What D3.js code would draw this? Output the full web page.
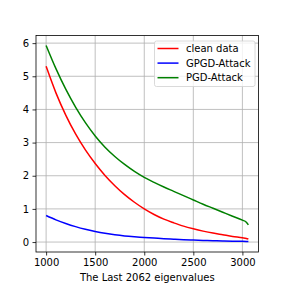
<html>
<head>
<script src="https://cdn.jsdelivr.net/npm/d3@7"></script>
<style>
  body { margin: 0; background: #fff; }
  text { font-family: "DejaVu Sans", sans-serif; }
</style>
</head>
<body>
<div id="vis_container"></div>
<script>
    // x positions of the sampled eigenvalues (last point = 1000 + 2062 - 1)
    var xs = [1000, 1100, 1200, 1300, 1400, 1500, 1600, 1700, 1800, 1900, 2000,
              2100, 2200, 2300, 2400, 2500, 2600, 2700, 2800, 2900, 3000, 3040, 3061];
    var clean = [5.30, 4.50, 3.83, 3.26, 2.78, 2.37, 2.01, 1.70, 1.43, 1.20, 1.00,
                 0.83, 0.69, 0.58, 0.48, 0.40, 0.33, 0.27, 0.22, 0.17, 0.13, 0.11, 0.09];
    var gpgd = [0.80, 0.67, 0.56, 0.465, 0.385, 0.32, 0.265, 0.22, 0.185, 0.16, 0.14,
                0.12, 0.10, 0.085, 0.07, 0.06, 0.05, 0.04, 0.033, 0.027, 0.022, 0.018, 0.015];
    var pgd = [5.93, 5.23, 4.61, 4.07, 3.60, 3.20, 2.86, 2.58, 2.34, 2.13, 1.95,
               1.80, 1.66, 1.53, 1.40, 1.27, 1.14, 1.02, 0.90, 0.78, 0.66, 0.60, 0.52];
    var seriesNames = ["clean data", "GPGD-Attack", "PGD-Attack"];
    var seriesColors = ["red", "blue", "green"];
    var xTicks = [1000, 1500, 2000, 2500, 3000];
    var yTicks = [0, 1, 2, 3, 4, 5, 6];
    var xLabel = "The Last 2062 eigenvalues";

    var width = 288, height = 288;
    var pLeft = 36, pRight = 258.5, pTop = 35.5, pBottom = 252;

    var svg = d3.select("#vis_container")
                .append("svg")
                .attr("width", width)
                .attr("height", height);

    var x = d3.scaleLinear().domain([896.9, 3164.1]).range([pLeft, pRight]);
    var y = d3.scaleLinear().domain([-0.3, 6.23]).range([pBottom, pTop]);

    // grid
    var grid = svg.append("g").attr("stroke", "#b0b0b0").attr("stroke-width", 0.8);
    grid.selectAll(".gx").data(xTicks).enter().append("line")
        .attr("x1", function(d) { return x(d); }).attr("x2", function(d) { return x(d); })
        .attr("y1", pTop).attr("y2", pBottom);
    grid.selectAll(".gy").data(yTicks).enter().append("line")
        .attr("y1", function(d) { return y(d); }).attr("y2", function(d) { return y(d); })
        .attr("x1", pLeft).attr("x2", pRight);

    var allSeries = [clean, gpgd, pgd];
    var line = d3.line()
        .x(function(d, i) { return x(xs[i]); })
        .y(function(d) { return y(d); })
        .curve(d3.curveMonotoneX);

    svg.append("g").selectAll("path").data(allSeries).enter().append("path")
        .attr("d", line)
        .attr("fill", "none")
        .attr("stroke", function(d, i) { return seriesColors[i]; })
        .attr("stroke-width", 1.5);

    // axes
    svg.append("g")
        .attr("transform", "translate(0," + pBottom + ")")
        .call(d3.axisBottom(x).tickValues(xTicks).tickSize(3.5).tickPadding(3.5).tickFormat(d3.format("d")))
        .call(function(g) {
            g.select(".domain").remove();
            g.selectAll("text").attr("font-size", 10).attr("fill", "#000").attr("font-family", "DejaVu Sans");
            g.selectAll("line").attr("stroke-width", 0.8);
        });
    svg.append("g")
        .attr("transform", "translate(" + pLeft + ",0)")
        .call(d3.axisLeft(y).tickValues(yTicks).tickSize(3.5).tickPadding(3.5).tickFormat(d3.format("d")))
        .call(function(g) {
            g.select(".domain").remove();
            g.selectAll("text").attr("font-size", 10).attr("fill", "#000").attr("font-family", "DejaVu Sans");
            g.selectAll("line").attr("stroke-width", 0.8);
        });

    svg.append("rect")
        .attr("x", pLeft).attr("y", pTop)
        .attr("width", pRight - pLeft).attr("height", pBottom - pTop)
        .attr("fill", "none").attr("stroke", "#000").attr("stroke-width", 0.8);

    svg.append("text")
        .attr("x", (pLeft + pRight) / 2).attr("y", 281)
        .attr("text-anchor", "middle").attr("font-size", 10)
        .text(xLabel);

    // legend
    var lg = svg.append("g");
    lg.append("rect")
        .attr("x", 154.5).attr("y", 41).attr("width", 100.5).attr("height", 45.5)
        .attr("rx", 2).attr("fill", "#fff").attr("fill-opacity", 0.8)
        .attr("stroke", "#d0d0d0").attr("stroke-width", 0.8);
    var items = lg.selectAll(".item").data(seriesNames).enter().append("g")
        .attr("transform", function(d, i) { return "translate(0," + (48.5 + i * 14.6) + ")"; });
    items.append("line")
        .attr("x1", 157.5).attr("x2", 178.5)
        .attr("stroke", function(d, i) { return seriesColors[i]; })
        .attr("stroke-width", 1.5);
    items.append("text")
        .attr("x", 186).attr("dy", "0.35em").attr("font-size", 10)
        .text(function(d) { return d; });
</script>
</body>
</html>
